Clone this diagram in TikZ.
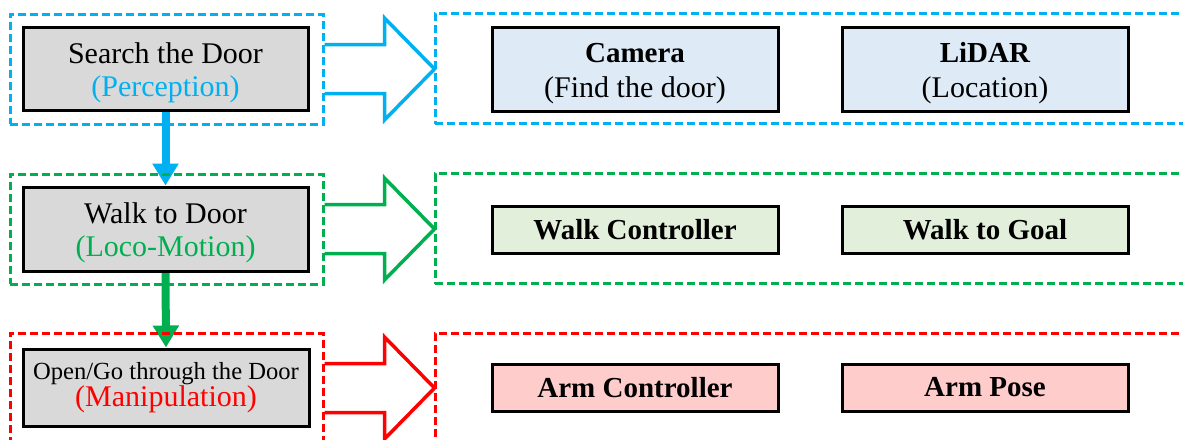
\documentclass[tikz,border=0pt]{standalone}
\usepackage{fontspec}
\setmainfont{Liberation Serif}
\usetikzlibrary{arrows.meta,calc}
\definecolor{pblue}{HTML}{00B0F0}
\definecolor{pgreen}{HTML}{00B050}
\definecolor{pred}{HTML}{FF0000}
\definecolor{taskgray}{HTML}{D9D9D9}
\definecolor{bluefill}{HTML}{DEEBF7}
\definecolor{greenfill}{HTML}{E2EFDA}
\definecolor{redfill}{HTML}{FFCCCC}
\pgfdeclarelayer{back}
\pgfsetlayers{back,main}

% outlined block arrow leaving the east side of a stage frame
\newcommand{\blkarrow}[2]{%
  \draw[#2, line width=3.5pt, line join=miter]
    ($(#1.east)+(0,-24.5)$) -- ++(60,0) -- ++(0,-26.5) -- ++(50,51)
    -- ++(-50,51) -- ++(0,-26.5) -- ++(-60,0);
}
% invisible strut that lowers a two-line label slightly
\newcommand{\lowstrut}{\rule{0pt}{29pt}}

\begin{document}
\begin{tikzpicture}[x=1pt,y=-1pt,
  frame/.style={draw=#1, dash pattern=on 8pt off 4pt, line width=3pt,
    inner sep=0pt, minimum height=110pt},
  stage/.style={draw=black, fill=taskgray, line width=3pt, align=center,
    minimum width=285pt, inner sep=0pt},
  part/.style={draw=black, fill=#1, line width=3pt, align=center,
    minimum width=286pt, inner sep=0pt,
    font=\fontsize{29}{35}\selectfont},
  flow/.style={draw=#1, line width=8pt,
    -{Triangle[length=22pt 0 0, width=25pt 0 0]}},
]
\useasboundingbox (0,0) rectangle (1183,439);
\clip (0,0) rectangle (1183,439);

% stage frames
\node[frame=pblue,  minimum width=313pt] (f1L) at (166.5,69) {};
\node[frame=pgreen, minimum width=313pt] (f2L) at (166.5,229) {};
\node[frame=pred,   minimum width=313pt] (f3L) at (166.5,388) {};
\node[frame=pblue,  minimum width=755pt] (f1R) at (812.5,68.5) {};
\node[frame=pgreen, minimum width=755pt] (f2R) at (812.5,228.5) {};
\node[frame=pred,   minimum width=755pt] (f3R) at (812.5,388) {};

% stage boxes
\node[stage, minimum height=83pt, font=\fontsize{30}{33}\selectfont] (g1) at (165.5,68.5)
  {\lowstrut Search the Door\\\textcolor{pblue}{(Perception)}};
\node[stage, minimum height=84pt, font=\fontsize{30}{33}\selectfont] (g2) at (165.5,229)
  {\lowstrut Walk to Door\\\textcolor{pgreen}{(Loco-Motion)}};
\node[stage, minimum width=286pt, minimum height=77pt] (g3) at (166,387.5)
  {\fontsize{24.6}{28}\selectfont Open/Go through the Door\\
   \fontsize{30}{28}\selectfont\textcolor{pred}{(Manipulation)}};

% module boxes
\node[part=bluefill, minimum height=84pt] (cam) at (635,69)
  {\lowstrut\textbf{Camera}\\\fontsize{30}{36}\selectfont(Find the door)};
\node[part=bluefill, minimum height=84pt] (lid) at (985,69)
  {\lowstrut\textbf{LiDAR}\\\fontsize{30}{36}\selectfont(Location)};
\node[part=greenfill, minimum height=47pt] (wc) at (635,229.5) {\textbf{Walk Controller}};
\node[part=greenfill, minimum height=47pt] (wg) at (985,229.5) {\textbf{Walk to Goal}};
\node[part=redfill, minimum height=47pt] (ac) at (635,387.5) {\textbf{Arm Controller}};
\node[part=redfill, minimum height=47pt] (ap) at (985,387.5) {\textbf{Arm Pose}};

% block arrows from stages to modules
\blkarrow{f1L}{pblue}
\blkarrow{f2L}{pgreen}
\blkarrow{f3L}{pred}

% stage sequence
\begin{pgfonlayer}{back}
\draw[flow=pblue]  (g1.south) -- (g2.north);
\draw[flow=pgreen] (g2.south) -- (g3.north);
\end{pgfonlayer}
\end{tikzpicture}
\end{document}
